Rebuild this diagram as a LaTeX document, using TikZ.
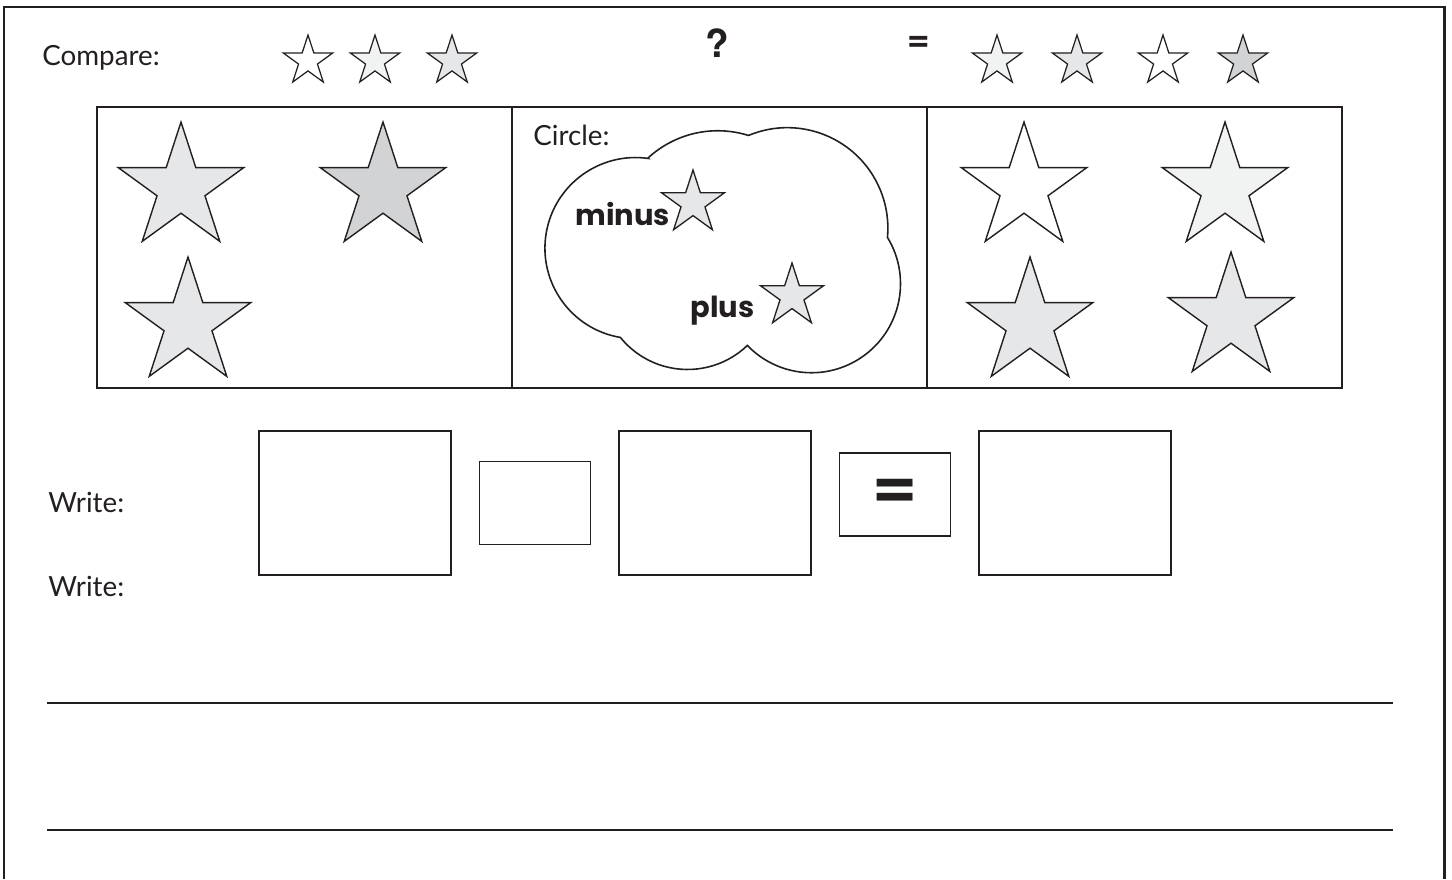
\documentclass[tikz,border=0pt]{standalone}
\usepackage{fontspec}
\setmainfont{Lato}
\newfontfamily\popfont{Poppins}
\newfontfamily\herosfont{TeX Gyre Heros}
\usetikzlibrary{positioning}
\usetikzlibrary{shapes.geometric}
\definecolor{ink}{HTML}{231F20}
\definecolor{paleA}{HTML}{F1F2F2}
\definecolor{paleB}{HTML}{E6E7E8}
\definecolor{paleC}{HTML}{D1D3D4}

\begin{document}
\begin{tikzpicture}[%
    x=0.02cm, y=-0.02cm,
    node distance=0.54cm,
    label/.style={font=\fontsize{15.8}{18}\selectfont, text=ink, inner sep=0pt, anchor=base west},
    bigword/.style={font=\popfont\bfseries\fontsize{16.5}{19}\selectfont, text=ink, inner sep=0pt, anchor=base west},
    sign/.style={font=\herosfont\bfseries\fontsize{22}{24}\selectfont, text=ink, inner sep=0pt},
    tinystar/.style={star, star points=5, star point ratio=2.618, draw=ink, line width=0.7pt, inner sep=0pt, minimum size=1.04cm},
    midstar/.style={star, star points=5, star point ratio=2.618, draw=ink, line width=0.75pt, inner sep=0pt, minimum size=1.32cm},
    bigstar/.style={star, star points=5, star point ratio=2.618, draw=ink, line width=0.8pt, inner sep=0pt, minimum size=2.64cm},
    panelbox/.style={rectangle, draw=ink, line width=0.9pt, inner sep=0pt, minimum width=8.3cm, minimum height=5.62cm},
    answerbox/.style={rectangle, draw=ink, line width=0.9pt, inner sep=0pt},
]
\useasboundingbox (0,0) rectangle (1452,879);

% frame
\draw[ink, line width=1.7pt] (4,879) -- (4,7) -- (1444,7) -- (1444,879);

% compare row
\node[label] (compare) at (42,65) {Compare:};
\node[tinystar, fill=white] (cstarone)   at (308,61) {};
\node[tinystar, fill=paleA] (cstartwo)   at (375,61) {};
\node[tinystar, fill=paleB] (cstarthree) at (452,61) {};
\node[sign] (question) at (717,43) {?};
\node[sign] (equals) at (919,44) {=};
\node[tinystar, fill=paleA] (estarone)   at (997,61) {};
\node[tinystar, fill=paleB] (estartwo)   at (1077,61) {};
\node[tinystar, fill=white] (estarthree) at (1163,61) {};
\node[tinystar, fill=paleC] (estarfour)  at (1243,61) {};

% panels
\node[panelbox] (leftpanel) at (304.5,247.5) {};
\node[panelbox] (midpanel) [right=-0.03cm of leftpanel] {};
\node[panelbox] (rightpanel) [right=-0.03cm of midpanel] {};

% left panel stars
\node[bigstar, fill=paleB] (lstarone)   at (181,188) {};
\node[bigstar, fill=paleC] (lstartwo)   at (383,188) {};
\node[bigstar, fill=paleB] (lstarthree) at (188,323) {};

% cloud
\node[label] (circle) at (533,145) {Circle:};
\draw[ink, line width=0.9pt, fill=white] (648,158)
    arc[start angle=-132.7, end angle=-72.6, radius=102.8]
    arc[start angle=-112.7, end angle=5.2, radius=100.6]
    arc[start angle=-31.4, end angle=136.1, radius=89]
    arc[start angle=46.2, end angle=141, radius=86.4]
    arc[start angle=99.6, end angle=278.2, radius=90.6]
    -- cycle;
\node[midstar, fill=paleB] (minusstar) at (693,203) {};
\node[bigword] (minus) at (575,225) {minus};
\node[midstar, fill=paleB] (plusstar) at (792,296) {};
\node[bigword] (plus) at (690,317) {plus};

% right panel stars
\node[bigstar, fill=white] (rstarone)   at (1024,188) {};
\node[bigstar, fill=paleA] (rstartwo)   at (1225,188) {};
\node[bigstar, fill=paleB] (rstarthree) at (1030,323) {};
\node[bigstar, fill=paleB] (rstarfour)  at (1231,318) {};

% write rows
\node[label] (writeone) at (48,512) {Write:};
\node[label] (writetwo) at (48,596) {Write:};

\node[answerbox, minimum width=3.84cm, minimum height=2.88cm] (boxone) at (355,503) {};
\node[answerbox, minimum width=2.22cm, minimum height=1.66cm] (boxtwo) [right=of boxone] {};
\node[answerbox, minimum width=3.84cm, minimum height=2.88cm] (boxthree) [right=of boxtwo] {};
\node[answerbox, minimum width=2.22cm, minimum height=1.66cm] (boxfour) [right=of boxthree, yshift=0.17cm] {};
\node[answerbox, minimum width=3.84cm, minimum height=2.88cm] (boxfive) [right=of boxfour, yshift=-0.17cm] {};
\node[font=\herosfont\bfseries\fontsize{44}{46}\selectfont, text=ink, inner sep=0pt] (boxequals) at (boxfour) {=};

% lines
\draw[ink, line width=1.1pt] (47,703) -- (1393,703);
\draw[ink, line width=1.1pt] (47,830) -- (1393,830);

\end{tikzpicture}
\end{document}
